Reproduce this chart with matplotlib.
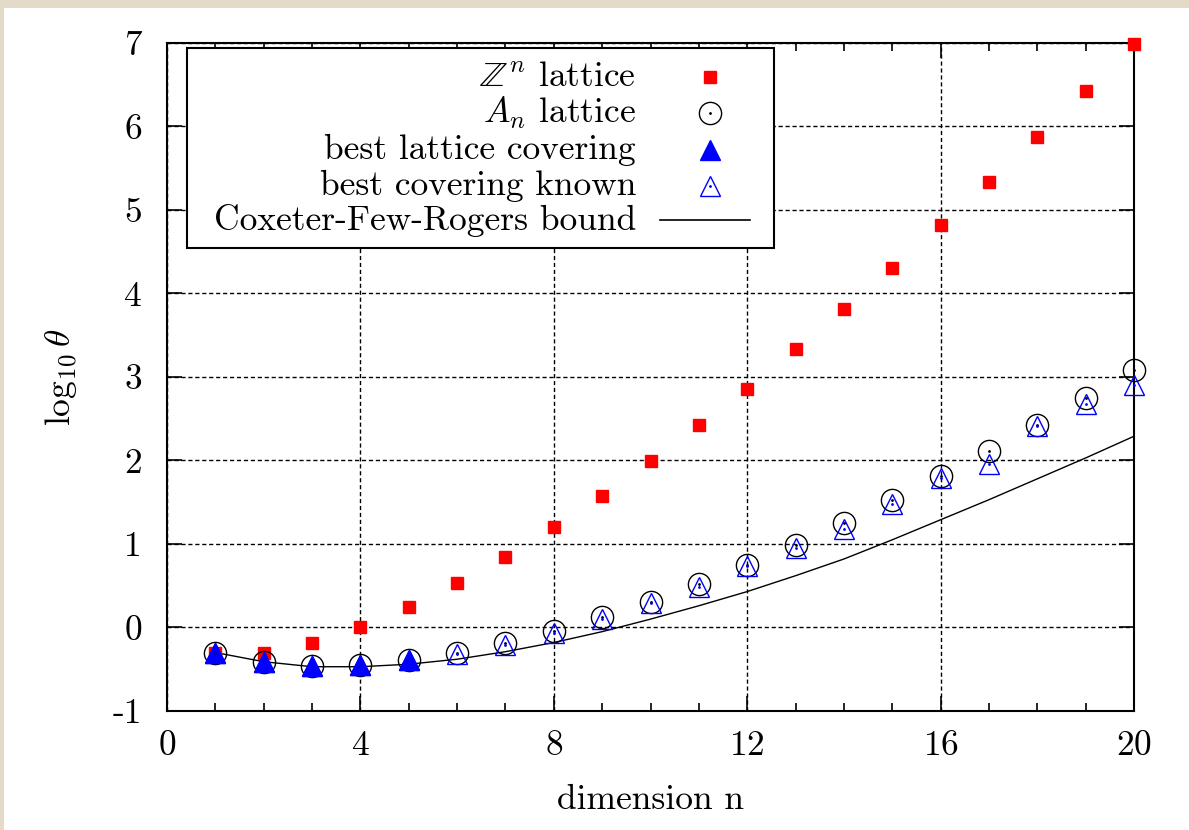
import matplotlib
matplotlib.use("Agg")
import matplotlib.pyplot as plt
from matplotlib.patches import Rectangle
from matplotlib.ticker import MultipleLocator

plt.rcParams['font.family'] = ['cmr10']
plt.rcParams['mathtext.fontset'] = 'cm'
plt.rcParams['axes.unicode_minus'] = False
plt.rcParams['axes.formatter.use_mathtext'] = True

# data
dims = list(range(1, 21))
zn_lattice = [-0.30, -0.30, -0.19, 0.00, 0.24, 0.53, 0.85, 1.20, 1.58, 1.99,
              2.42, 2.86, 3.33, 3.81, 4.31, 4.82, 5.34, 5.88, 6.43, 6.99]
an_lattice = [-0.30, -0.41, -0.46, -0.45, -0.39, -0.31, -0.19, -0.04, 0.12, 0.31,
              0.52, 0.75, 0.99, 1.25, 1.53, 1.81, 2.11, 2.42, 2.75, 3.08]
best_lattice_dims = [1, 2, 3, 4, 5]
best_lattice = [-0.30, -0.41, -0.46, -0.45, -0.39]
best_known = [-0.30, -0.41, -0.46, -0.45, -0.39, -0.32, -0.21, -0.07, 0.10, 0.29,
              0.49, 0.74, 0.95, 1.18, 1.48, 1.79, 1.96, 2.41, 2.68, 2.90]
cfr_bound = [-0.30, -0.41, -0.47, -0.47, -0.44, -0.38, -0.29, -0.18, -0.05, 0.10,
             0.26, 0.43, 0.62, 0.82, 1.05, 1.29, 1.53, 1.78, 2.03, 2.29]

labels = [r'$\mathbb{Z}^n$ lattice', r'$A_n$ lattice', 'best lattice covering',
          'best covering known', 'Coxeter-Few-Rogers bound']

fig = plt.figure(figsize=(11.89, 8.30), dpi=100, facecolor='#e4dac8')
fig.patches.append(Rectangle((4 / 1189, 0), 1, 1 - 8 / 830, transform=fig.transFigure,
                             facecolor='white', edgecolor='none', zorder=-10))
ax = fig.add_axes([0.1405, 0.1434, 0.9537 - 0.1405, 0.9482 - 0.1434])
ax.set_facecolor('white')

fs = 25.5
sq_ms, circ_ms, tri_ms = 8.5, 16, 14.5
ax.plot(dims, cfr_bound, '-', color='black', lw=1.0, zorder=3)
ax.plot(dims, zn_lattice, 's', color='red', ms=sq_ms, mec='red', clip_on=False, zorder=4)
ax.plot(dims, an_lattice, 'o', mfc='none', mec='black', ms=circ_ms, mew=1.0, clip_on=False, zorder=4)
ax.plot(dims, an_lattice, '.', color='black', ms=2, clip_on=False, zorder=6)
ax.plot(best_lattice_dims, best_lattice, '^', color='blue', ms=tri_ms, clip_on=False, zorder=5)
ax.plot(dims, best_known, '^', mfc='none', mec='blue', ms=tri_ms, mew=1.0, clip_on=False, zorder=5)
ax.plot(dims, best_known, '.', color='blue', ms=2, clip_on=False, zorder=6)

ax.set_xlim(0, 20)
ax.set_ylim(-1, 7)
ax.xaxis.set_major_locator(MultipleLocator(4))
ax.xaxis.set_minor_locator(MultipleLocator(1))
ax.tick_params(which='both', direction='in', top=True, right=True, labelsize=fs,
               color='black', width=1.2)
ax.tick_params(which='major', length=11, pad=14)
ax.tick_params(which='minor', length=6)
ax.tick_params(axis='y', which='major', pad=18)
ax.set_yticks(range(-1, 8))
ax.set_yticklabels([str(v) for v in range(-1, 8)])
ax.grid(True, which='major', color='black', linestyle=(0, (3, 2)), lw=1.0)
for s in ax.spines.values():
    s.set_linewidth(1.5)

ax.set_xlabel('dimension n', fontsize=fs, labelpad=16)
ax.set_ylabel(r'$\log_{10}\theta$', fontsize=fs, labelpad=24)

# legend box drawn in axes coordinates
ax.add_patch(Rectangle((0.0207, 0.6931), 0.6070, 0.2994, transform=ax.transAxes,
                       facecolor='white', edgecolor='black', lw=1.5, zorder=7))
rows = [0.949, 0.895, 0.840, 0.786, 0.735]
for lab, yy in zip(labels, rows):
    ax.text(0.485, yy, lab, transform=ax.transAxes, ha='right', va='center',
            fontsize=fs, zorder=8)
mx = 0.5615
ax.plot([mx], [rows[0]], 's', color='red', ms=sq_ms, transform=ax.transAxes, zorder=8)
ax.plot([mx], [rows[1]], 'o', mfc='none', mec='black', ms=circ_ms, mew=1.0, transform=ax.transAxes, zorder=8)
ax.plot([mx], [rows[1]], '.', color='black', ms=2, transform=ax.transAxes, zorder=8)
ax.plot([mx], [rows[2]], '^', color='blue', ms=tri_ms, transform=ax.transAxes, zorder=8)
ax.plot([mx], [rows[3]], '^', mfc='none', mec='blue', ms=tri_ms, mew=1.0, transform=ax.transAxes, zorder=8)
ax.plot([mx], [rows[3]], '.', color='blue', ms=2, transform=ax.transAxes, zorder=8)
ax.plot([0.5098, 0.6029], [rows[4], rows[4]], '-', color='black', lw=1.2,
        transform=ax.transAxes, zorder=8)

fig.savefig('out.png', dpi=100, facecolor=fig.get_facecolor())
